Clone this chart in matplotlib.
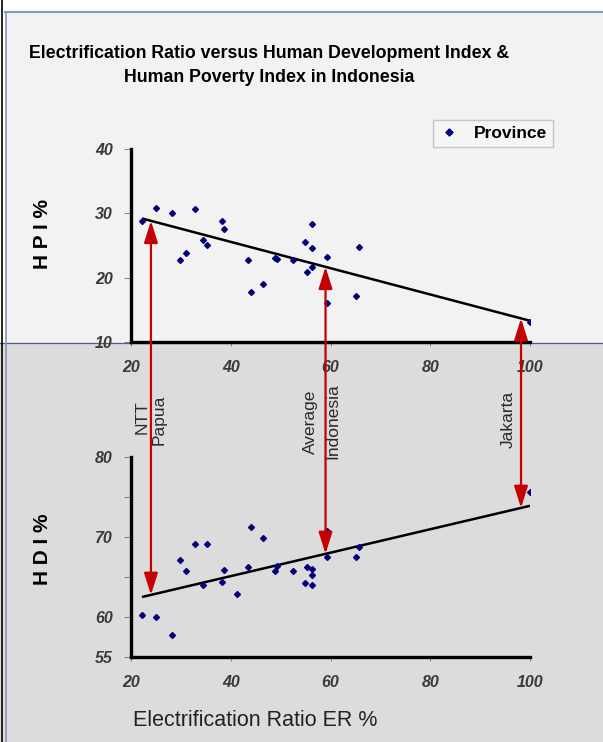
import matplotlib
matplotlib.use("Agg")
import matplotlib.pyplot as plt
import numpy as np
from matplotlib.patches import Rectangle, ConnectionPatch
from matplotlib.lines import Line2D

plt.rcParams['font.family'] = ['Liberation Sans', 'DejaVu Sans']

# provinces: electrification ratio vs HPI
er_hpi = [22.3, 25.0, 28.2, 32.8, 29.8, 31.0, 34.5, 35.2, 38.3, 38.7, 43.4, 44.0, 46.5,
          48.9, 49.3, 52.4, 54.9, 55.2, 56.3, 56.3, 56.3, 59.2, 59.2, 65.1, 65.8, 100.0]
hpi = [28.8, 30.8, 30.1, 30.7, 22.7, 23.8, 25.8, 25.0, 28.8, 27.6, 22.7, 17.7, 19.0,
       23.0, 22.9, 22.7, 25.5, 20.9, 28.4, 24.6, 21.7, 23.2, 16.0, 17.1, 24.7, 13.1]

# provinces: electrification ratio vs HDI
er_hdi = [22.3, 25.0, 28.2, 29.8, 31.0, 32.8, 35.2, 34.5, 38.3, 38.7, 41.3, 43.4, 44.0,
          46.5, 48.9, 49.3, 52.4, 54.9, 55.2, 56.3, 56.3, 56.3, 59.2, 59.2, 65.1, 65.8, 100.0]
hdi = [60.25, 60.0, 57.75, 67.1, 65.8, 69.1, 69.1, 64.0, 64.4, 65.9, 62.9, 66.2, 71.2,
       69.9, 65.8, 66.4, 65.8, 64.3, 66.3, 66.0, 65.25, 64.0, 70.8, 67.5, 67.5, 68.7, 75.6]

# trend lines (end points)
fit_er = [22.2, 100.0]
hpi_fit = [29.2, 13.3]
hdi_fit = [62.5, 73.9]

# highlighted provinces
mark_er = [24.0, 59.0, 98.2]

W, H = 603, 742
fig = plt.figure(figsize=(W / 100, H / 100), dpi=100)

# panel backgrounds and frame
fig.add_artist(Rectangle((0, 0), 1, 1 - 343 / H, transform=fig.transFigure,
                         facecolor='#dcdcdc', edgecolor='none', zorder=-5))
fig.add_artist(Rectangle((5 / W, 1 - 343 / H), 1, (343 - 12) / H, transform=fig.transFigure,
                         facecolor='#f2f2f2', edgecolor='none', zorder=-5))
fig.add_artist(Line2D([5 / W, 1], [1 - 12 / H] * 2, transform=fig.transFigure,
                      color='#8797b8', lw=1.5, zorder=-4))
fig.add_artist(Line2D([0, 1], [1 - 343 / H] * 2, transform=fig.transFigure,
                      color='#4a5f8a', lw=0.9, zorder=-4))
fig.add_artist(Line2D([1.5 / W] * 2, [0, 1], transform=fig.transFigure,
                      color='black', lw=1.2, zorder=-4))
fig.add_artist(Line2D([6 / W] * 2, [0, 1 - 12 / H], transform=fig.transFigure,
                      color='#8797b8', lw=1.2, zorder=-4))

ax1 = fig.add_axes([131 / W, 1 - 342 / H, 399 / W, 193 / H])
ax2 = fig.add_axes([131 / W, 1 - 657 / H, 399 / W, 200 / H])

tick_font = dict(fontsize=11.5, fontstyle='italic', fontweight='bold', color='#3a3a3a')

for ax in (ax1, ax2):
    ax.set_facecolor('none')
    for s in ('top', 'right'):
        ax.spines[s].set_visible(False)
    for s in ('left', 'bottom'):
        ax.spines[s].set_linewidth(2.4)
    ax.set_xlim(20, 100)
    ax.set_xticks([20, 40, 60, 80, 100])
    ax.set_xticklabels(['20', '40', '60', '80', '100'], **tick_font)
    ax.tick_params(axis='x', length=3, width=0.6, color='#707070', pad=10)
    ax.tick_params(axis='y', length=5, width=0.6, color='#707070', pad=8)

ax1.set_ylim(10, 40)
ax1.set_yticks([10, 20, 30, 40])
ax1.set_yticklabels(['10', '20', '30', '40'], **tick_font)
ax2.set_ylim(55, 80)
ax2.set_yticks([55, 60, 65, 70, 75, 80])
ax2.set_yticklabels(['55', '60', '', '70', '', '80'], **tick_font)

ax1.plot(er_hpi, hpi, 'D', color='#00007a', markersize=3, label='Province', zorder=3)
ax2.plot(er_hdi, hdi, 'D', color='#00007a', markersize=3, zorder=3)
ax1.plot(fit_er, hpi_fit, color='black', lw=1.8, solid_capstyle='butt', zorder=2)
ax2.plot(fit_er, hdi_fit, color='black', lw=1.8, solid_capstyle='butt', zorder=2)

# double arrows joining the two trend lines
for x in mark_er:
    y_top = np.interp(x, fit_er, hpi_fit)
    y_bot = np.interp(x, fit_er, hdi_fit)
    arr = ConnectionPatch(xyA=(x, y_top), coordsA=ax1.transData,
                          xyB=(x, y_bot), coordsB=ax2.transData,
                          arrowstyle='<|-|>,head_length=0.95,head_width=0.3',
                          mutation_scale=14, color='#c40000', lw=1.6, zorder=4)
    fig.add_artist(arr)

lab_font = dict(fontsize=12.5, color='#2a2a2a', rotation=90, ha='center', va='center',
                transform=ax2.transData, clip_on=False)
ax2.text(mark_er[0] - 1.8, 85.0, 'NTT', **lab_font)
ax2.text(mark_er[0] + 1.7, 84.6, 'Papua', **lab_font)
ax2.text(mark_er[1] - 3.0, 84.4, 'Average', **lab_font)
ax2.text(mark_er[1] + 1.5, 84.5, 'Indonesia', **lab_font)
ax2.text(mark_er[2] - 2.6, 84.7, 'Jakarta', **lab_font)

fig.text(42 / W, 1 - 234 / H, 'H P I %', fontsize=15, fontweight='bold',
         rotation=90, ha='center', va='center')
fig.text(42 / W, 1 - 549 / H, 'H D I %', fontsize=15, fontweight='bold',
         rotation=90, ha='center', va='center')

fig.text(269 / W, 1 - 54 / H, 'Electrification Ratio versus Human Development Index &',
         fontsize=12.8, fontweight='bold', ha='center', va='center')
fig.text(269 / W, 1 - 78 / H, 'Human Poverty Index in Indonesia',
         fontsize=12.8, fontweight='bold', ha='center', va='center')
fig.text(255 / W, 1 - 720 / H, 'Electrification Ratio ER %', fontsize=15.5,
         ha='center', va='center', color='#222222')

leg = ax1.legend(loc='upper right', bbox_to_anchor=(553 / W, 1 - 120 / H),
                 bbox_transform=fig.transFigure, borderaxespad=0, fancybox=False,
                 prop=dict(size=12.5, weight='bold'), handletextpad=0.8,
                 borderpad=0.35, handlelength=1.2, markerscale=1.2)
leg.get_frame().set_edgecolor('#b8b8cc')
leg.get_frame().set_facecolor('#f7f7f7')
leg.get_frame().set_linewidth(1.0)

fig.savefig('out.png', dpi=100)
